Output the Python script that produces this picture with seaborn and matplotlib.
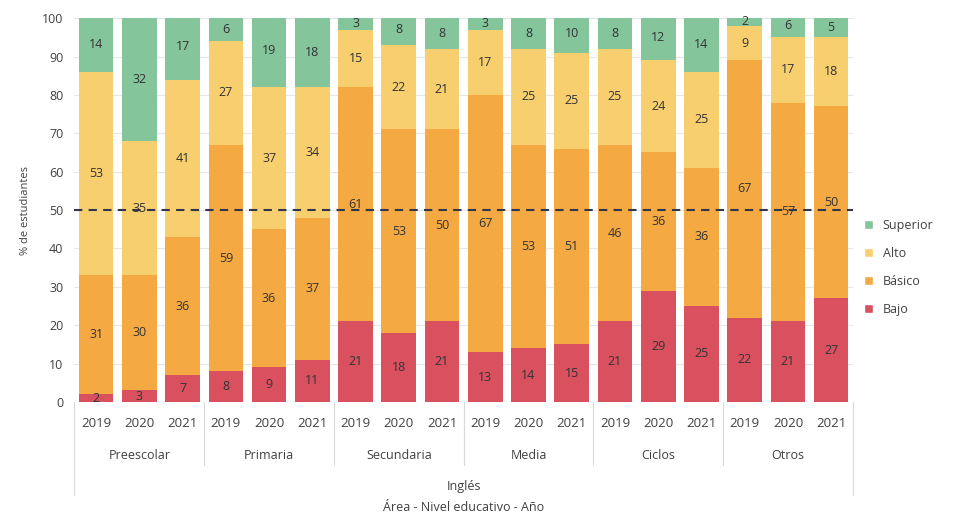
import numpy as np
import pandas as pd
import matplotlib
matplotlib.use("Agg")
import matplotlib.pyplot as plt
from matplotlib.patches import Patch
import seaborn as sb

niveles = ["Preescolar", "Primaria", "Secundaria", "Media", "Ciclos", "Otros"]
anios = ["2019", "2020", "2021"]

bajo = [2, 3, 7, 8, 9, 11, 21, 18, 21, 13, 14, 15, 21, 29, 25, 22, 21, 27]
basico = [31, 30, 36, 59, 36, 37, 61, 53, 50, 67, 53, 51, 46, 36, 36, 67, 57, 50]
alto = [53, 35, 41, 27, 37, 34, 15, 22, 21, 17, 25, 25, 25, 24, 25, 9, 17, 18]
superior = [14, 32, 17, 6, 19, 18, 3, 8, 8, 3, 8, 10, 8, 12, 14, 2, 6, 5]

colores = {"Superior": "#84c59c", "Alto": "#f8cf6f", "Básico": "#f4a942", "Bajo": "#d9505f"}

df = pd.DataFrame({"Bajo": bajo, "Básico": basico, "Alto": alto, "Superior": superior})
df["pos"] = np.arange(len(df))
cum = df[["Bajo", "Básico", "Alto", "Superior"]].cumsum(axis=1)

sb.set_style("white")
plt.rcParams["font.family"] = ["Open Sans", "DejaVu Sans"]

fig = plt.figure(figsize=(9.55, 5.18), dpi=100)
ax = fig.add_axes([0.078, 0.224, 0.815, 0.741])

# stacked bars: draw cumulative totals from tallest down
for nivel in ["Superior", "Alto", "Básico", "Bajo"]:
    sb.barplot(x=df["pos"], y=cum[nivel], color=colores[nivel], width=0.8,
               linewidth=0, saturation=1, ax=ax, zorder=2)

for i in range(len(df)):
    abajo = 0
    for nivel in ["Bajo", "Básico", "Alto", "Superior"]:
        v = df.loc[i, nivel]
        ax.text(i, min(abajo + v / 2, 99), str(v), ha="center", va="center",
                fontsize=9, color="#333333", zorder=4)
        abajo += v

ax.axhline(50, color="#33364a", linestyle=(0, (4, 3)), linewidth=1.5, zorder=3)

ax.set_ylim(0, 100)
ax.set_xlim(-0.5, len(df) - 0.5)
ax.set_yticks(range(0, 101, 10))
ax.yaxis.grid(True, color="#e6e6e6", linewidth=0.8, zorder=0)
ax.set_axisbelow(True)
ax.tick_params(axis="y", labelsize=9, colors="#404040", length=0, pad=8)
ax.set_ylabel("% de estudiantes", fontsize=8, color="#404040", labelpad=8)
ax.set_xlabel("")
ax.set_xticks([])
for s in ax.spines.values():
    s.set_visible(False)

trans = ax.get_xaxis_transform()
for i in range(len(df)):
    ax.text(i, -0.055, anios[i % 3], transform=trans, ha="center", va="center",
            fontsize=9.5, color="#404040")
for g, nombre in enumerate(niveles):
    ax.text(g * 3 + 1, -0.14, nombre, transform=trans, ha="center", va="center",
            fontsize=9, color="#404040")
for g in range(len(niveles) + 1):
    x = g * 3 - 0.5
    fin = -0.242 if g in (0, len(niveles)) else -0.165
    ax.plot([x, x], [0, fin], transform=trans, color="#d9d9d9", linewidth=0.8,
            clip_on=False)
ax.text(8.5, -0.219, "Inglés", transform=trans, ha="center", va="center",
        fontsize=9, color="#404040")
ax.text(8.5, -0.276, "Área - Nivel educativo - Año", transform=trans,
        ha="center", va="center", fontsize=9, color="#404040")

handles = [Patch(facecolor=colores[n], label=n) for n in ["Superior", "Alto", "Básico", "Bajo"]]
ax.legend(handles=handles, loc="center left", bbox_to_anchor=(1.0, 0.35),
          frameon=False, fontsize=9, handlelength=0.7, handleheight=0.7,
          labelspacing=1.2, handletextpad=0.8, labelcolor="#404040")

fig.savefig("out.png", dpi=100)
